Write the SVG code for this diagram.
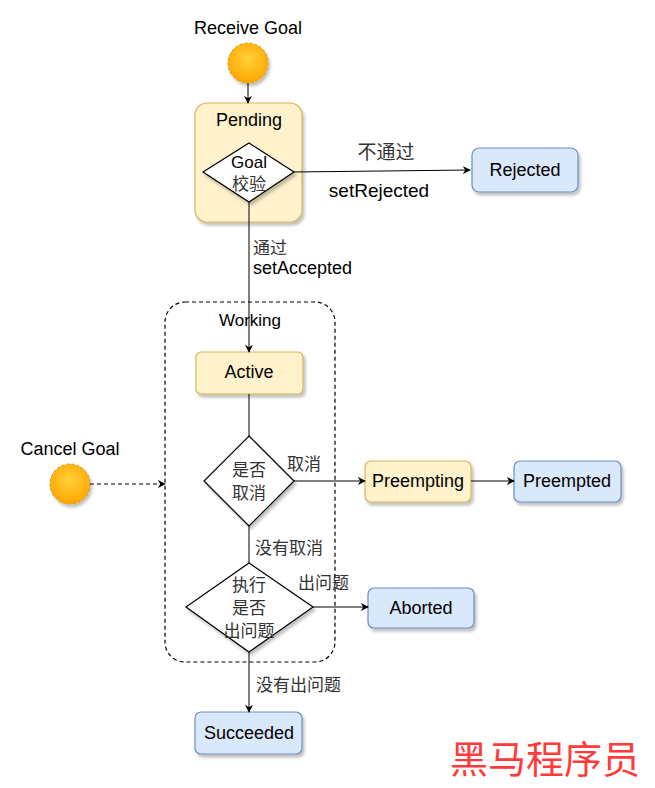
<svg xmlns="http://www.w3.org/2000/svg" width="655" height="788" viewBox="0 0 655 788">
<defs>
<filter id="sh" x="-20%" y="-20%" width="150%" height="150%"><feDropShadow dx="2" dy="3" stdDeviation="1.5" flood-color="#000" flood-opacity="0.25"/></filter>
<marker id="ar" viewBox="0 0 10 10" refX="9" refY="5" markerWidth="8" markerHeight="8" orient="auto" markerUnits="userSpaceOnUse"><path d="M0,0 L10,5 L0,10 L3,5 Z" fill="#000"/></marker>
<radialGradient id="og" cx="0.5" cy="0.4" r="0.6"><stop offset="0" stop-color="#ffd23a"/><stop offset="1" stop-color="#ffa500"/></radialGradient>
</defs>
<style>
text{font-family:"Liberation Sans",Arial,"Noto Sans CJK SC",sans-serif;font-size:18px;fill:#000;text-anchor:middle}
.cn{font-family:"Noto Sans CJK SC",sans-serif;font-size:17px;fill:#333}
.big{font-size:18px}
.l{text-anchor:start}
.y{fill:#fff2cc;stroke:#d6b656;stroke-width:1.2}
.b{fill:#dae8fc;stroke:#6c8ebf;stroke-width:1.2}
.d{fill:#fff;stroke:#000;stroke-width:1.2}
.e{fill:none;stroke:#000;stroke-width:1}
.c{fill:url(#og);stroke:#d79b00;stroke-dasharray:3 2;stroke-width:1}
</style>
<g id="receive-goal">
<text class="big" x="248" y="34">Receive Goal</text>
<circle class="c" cx="248" cy="63" r="20" filter="url(#sh)"/>
</g>
<g id="pending">
<rect class="y" x="195" y="103" width="107" height="119" rx="12" filter="url(#sh)"/>
<text x="249" y="126">Pending</text>
</g>
<g id="goal-check">
<polygon class="d" points="249,143 294,172 249,202 203,172" filter="url(#sh)"/>
<text x="249" y="168" style="font-size:17px">Goal</text>
<text class="cn" x="249" y="190">校验</text>
</g>
<g id="rejected">
<rect class="b" x="472" y="148" width="106" height="44" rx="7" filter="url(#sh)"/>
<text x="525" y="176">Rejected</text>
</g>
<g id="working">
<rect x="165" y="302" width="170" height="360" rx="20" fill="none" stroke="#000" stroke-dasharray="4 3" stroke-width="1.2"/>
<text x="250" y="326" style="font-size:17px">Working</text>
</g>
<g id="active">
<rect class="y" x="196" y="352" width="107" height="42" rx="5" filter="url(#sh)"/>
<text x="249" y="378">Active</text>
</g>
<g id="is-cancel">
<polygon class="d" points="249,436 294,481 249,526 204,481" filter="url(#sh)"/>
<text class="cn" x="249" y="476">是否</text>
<text class="cn" x="249" y="499">取消</text>
</g>
<g id="cancel-goal">
<text class="big" x="70" y="455">Cancel Goal</text>
<circle class="c" cx="70" cy="484" r="20" filter="url(#sh)"/>
</g>
<g id="preempting">
<rect class="y" x="365" y="461" width="106" height="41" rx="6" filter="url(#sh)"/>
<text x="418" y="487">Preempting</text>
</g>
<g id="preempted">
<rect class="b" x="514" y="461" width="107" height="41" rx="6" filter="url(#sh)"/>
<text x="567" y="487">Preempted</text>
</g>
<g id="has-problem">
<polygon class="d" points="249,563 313,607 249,652 186,607" filter="url(#sh)"/>
<text class="cn" x="249" y="591">执行</text>
<text class="cn" x="249" y="614">是否</text>
<text class="cn" x="249" y="637">出问题</text>
</g>
<g id="aborted">
<rect class="b" x="368" y="588" width="106" height="40" rx="6" filter="url(#sh)"/>
<text x="421" y="614">Aborted</text>
</g>
<g id="succeeded">
<rect class="b" x="195" y="712" width="107" height="42" rx="6" filter="url(#sh)"/>
<text x="249" y="739">Succeeded</text>
</g>
<g id="connectors">
<path class="e" d="M248,83 L248,103" marker-end="url(#ar)"/>
<path class="e" d="M294,172 L470,170" marker-end="url(#ar)"/>
<text class="cn" x="386" y="159" style="font-size:19px">不通过</text>
<text x="379" y="197" style="font-size:19px">setRejected</text>
<path class="e" d="M249,202 L249,352" marker-end="url(#ar)"/>
<text class="cn l" x="253" y="254">通过</text>
<text class="l big" x="253" y="274">setAccepted</text>
<path class="e" d="M249,394 L249,436"/>
<path class="e" d="M294,481 L365,481" marker-end="url(#ar)"/>
<text class="cn l" x="287" y="470">取消</text>
<path class="e" d="M471,481 L514,481" marker-end="url(#ar)"/>
<path class="e" d="M90,484 L165,484" stroke-dasharray="4 3" marker-end="url(#ar)"/>
<path class="e" d="M249,526 L249,563"/>
<text class="cn l" x="255" y="554">没有取消</text>
<path class="e" d="M313,607 L368,607" marker-end="url(#ar)"/>
<text class="cn l" x="298" y="589">出问题</text>
<path class="e" d="M249,652 L249,712" marker-end="url(#ar)"/>
<text class="cn l" x="256" y="691">没有出问题</text>
</g>
<g id="watermark">
<text x="545" y="773" style="font-family:'Noto Sans CJK SC',sans-serif;font-size:38px;fill:#ff3b3b">黑马程序员</text>
</g>
</svg>
